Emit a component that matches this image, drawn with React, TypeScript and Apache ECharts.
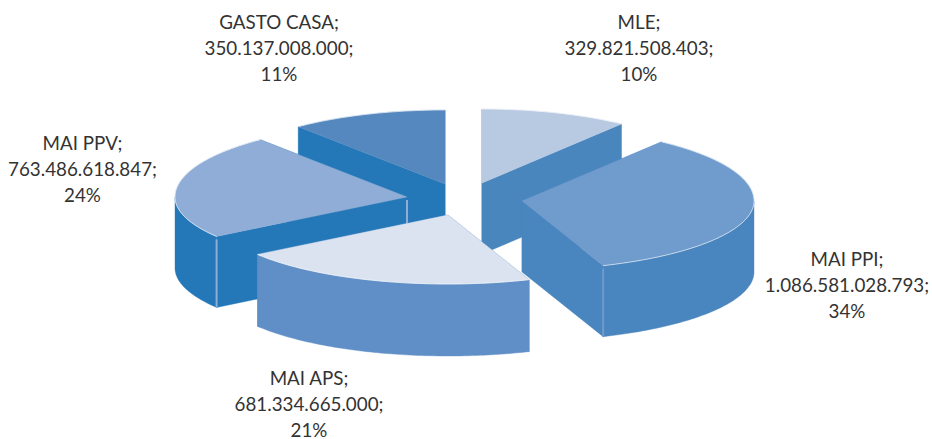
import React, { useEffect, useRef } from "react";
import * as echarts from "echarts";

const categories = ["MLE", "MAI PPI", "MAI APS", "MAI PPV", "GASTO CASA"];
const values = [329821508403, 1086581028793, 681334665000, 763486618847, 350137008000];

// Appearance of each slice, in the order of `categories`
const topColors = ["#b8c9e2", "#709bcd", "#dbe3f1", "#8fadd6", "#5588bf"];
const wallColors = ["#4a86be", "#4985be", "#5f8fc6", "#2478b8", "#2478b8"];
const apexes = [[482, 183], [522, 201], [448, 215], [407, 197], [445, 184]];
const depths = [71, 71, 72, 71, 71];
const labelCenters = [[639, 47], [847, 284], [309, 403], [82.5, 168], [279, 47]];
const drawOrder = [4, 0, 3, 1, 2];

const RX = 232;
const RY_BACK = 74;
const RY_FRONT = 69;
const LABEL_COLOR = "#333333";
const LABEL_FONT = "18.8px Lato, sans-serif";
const LINE_HEIGHT = 26;

const total = values.reduce((a, b) => a + b, 0);

const formatValue = (v: number) => String(v).replace(/\B(?=(\d{3})+$)/g, ".");

function sliceAngles(i: number) {
  const before = values.slice(0, i).reduce((a, b) => a + b, 0);
  return [(before / total) * 360, ((before + values[i]) / total) * 360];
}

function rimPoint(apex: number[], deg: number) {
  // The reference's front-right quadrant is slightly foreshortened
  const warped =
    deg > 90 && deg < 180 ? deg + 1.1 * Math.sin((2 * (deg - 90) * Math.PI) / 180) : deg;
  const r = (warped * Math.PI) / 180;
  const c = Math.cos(r);
  return [apex[0] + RX * Math.sin(r), apex[1] - c * (c > 0 ? RY_BACK : RY_FRONT)];
}

function arcPoints(apex: number[], from: number, to: number) {
  const pts: number[][] = [];
  const steps = Math.max(1, Math.ceil(to - from));
  for (let k = 0; k <= steps; k++) pts.push(rimPoint(apex, from + ((to - from) * k) / steps));
  return pts;
}

function renderSlice(params: any, api: any) {
  const i = api.value(1) as number;
  const apex = apexes[i];
  const wall = wallColors[i];
  const top = topColors[i];
  const depth = depths[i];
  const down = (p: number[]) => [p[0], p[1] + depth];
  const [a0, a1] = sliceAngles(i);
  const p0 = rimPoint(apex, a0);
  const p1 = rimPoint(apex, a1);
  const arc = arcPoints(apex, a0, a1);
  const children: any[] = [];
  const poly = (points: number[][], fill: string) =>
    children.push({
      type: "polygon",
      shape: { points },
      style: { fill, stroke: fill, lineWidth: 0.4 },
    });

  // Radial walls
  poly([apex, p0, down(p0), down(apex)], wall);
  poly([apex, p1, down(p1), down(apex)], wall);
  // Outer wall, front half only
  const f0 = Math.max(a0, 90);
  const f1 = Math.min(a1, 270);
  if (f1 > f0) {
    const front = arcPoints(apex, f0, f1);
    poly([...front, ...front.slice().reverse().map(down)], wall);
  }
  // Light vertical seams
  const seam = (p: number[]) =>
    children.push({
      type: "line",
      shape: { x1: p[0], y1: p[1] + 3, x2: p[0], y2: p[1] + depth },
      style: { stroke: top, lineWidth: 2 },
    });
  if (i === 3) {
    seam(apex);
    seam(p0);
  }
  if (i === 1) seam(p1);
  // Top face
  children.push({
    type: "polygon",
    shape: { points: [apex, ...arc] },
    style: { fill: top, stroke: top, lineWidth: 0.4 },
  });
  // Thin light rim
  children.push({
    type: "polyline",
    shape: { points: arc },
    style: { fill: "none", stroke: "#ffffff", lineWidth: 1, opacity: 0.6 },
  });
  // Label, one text per line so the last line stays inside the page
  const pct = Math.round((values[i] / total) * 100);
  const lines = [`${categories[i]};`, `${formatValue(values[i])};`, `${pct}%`];
  lines.forEach((text, k) =>
    children.push({
      type: "text",
      style: {
        text,
        x: labelCenters[i][0],
        y: labelCenters[i][1] + (k - 1) * LINE_HEIGHT,
        align: "center",
        verticalAlign: "middle",
        font: LABEL_FONT,
        fill: LABEL_COLOR,
      },
    })
  );
  return { type: "group", children };
}

export default function App() {
  const ref = useRef<HTMLDivElement>(null);
  useEffect(() => {
    document.body.style.margin = "0";
    document.body.style.background = "#ffffff";
    const chart = echarts.init(ref.current!, undefined, { renderer: "svg" });
    chart.setOption({
      animation: false,
      backgroundColor: "#ffffff",
      series: [
        {
          type: "custom",
          coordinateSystem: "none",
          silent: true,
          renderItem: renderSlice,
          data: drawOrder.map((i) => [values[i], i]),
        },
      ],
    });
    return () => chart.dispose();
  }, []);
  return <div ref={ref} style={{ width: 932, height: 439 }} />;
}
